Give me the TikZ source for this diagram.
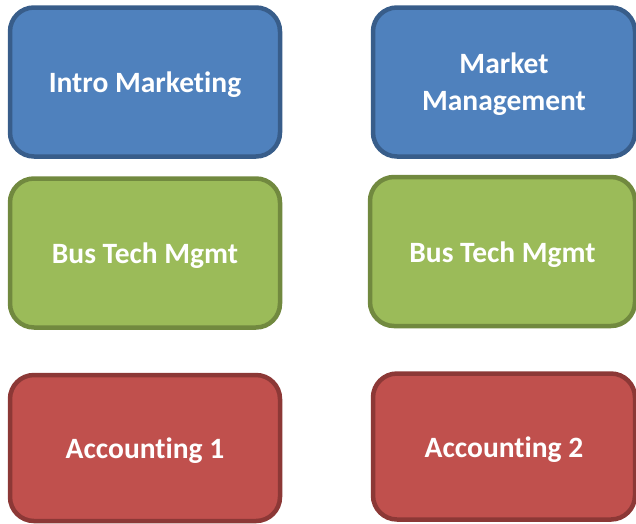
\documentclass[tikz,border=0pt]{standalone}
\usepackage{fontspec}
\setmainfont{Carlito}[RawFeature=-liga]
\usepackage{tikz}
\usetikzlibrary{positioning}

\definecolor{bluefill}{HTML}{4F81BD}
\definecolor{blueline}{HTML}{385D8A}
\definecolor{greenfill}{HTML}{9BBB59}
\definecolor{greenline}{HTML}{71893F}
\definecolor{redfill}{HTML}{C0504D}
\definecolor{redline}{HTML}{8C3836}

\begin{document}
\begin{tikzpicture}
[
x=1pt, y=1pt,
course/.style={rectangle, rounded corners=24pt, line width=4.5pt, text=white,
  font=\fontsize{29.5}{37}\selectfont\bfseries, align=center, text height=26pt,
  minimum width=270pt, minimum height=149pt, inner sep=0pt},
mkt/.style={course, fill=bluefill, draw=blueline},
btm/.style={course, fill=greenfill, draw=greenline},
acct/.style={course, fill=redfill, draw=redline, minimum height=146pt},
narrow/.style={minimum width=262pt},
]
\useasboundingbox (0,0) rectangle (636,-523);
%Nodes
\node[mkt]          (intro)    at (145,-82)                            {Intro Marketing};
\node[mkt, narrow, text height=62pt] (mktmgmt) [right of=intro, node distance=359pt] {Market\\Management};
\node[btm]          (bustech1) [below of=intro, node distance=171pt]   {Bus Tech Mgmt};
\node[btm, narrow, minimum width=265pt] (bustech2) [right of=bustech1, node distance=357.5pt, yshift=1.5pt] {Bus Tech Mgmt};
\node[acct]         (acct1)    [below of=bustech1, node distance=195pt] {Accounting 1};
\node[acct, narrow] (acct2)    [right of=acct1, node distance=359pt, yshift=1.5pt] {Accounting 2};
\end{tikzpicture}
\end{document}
